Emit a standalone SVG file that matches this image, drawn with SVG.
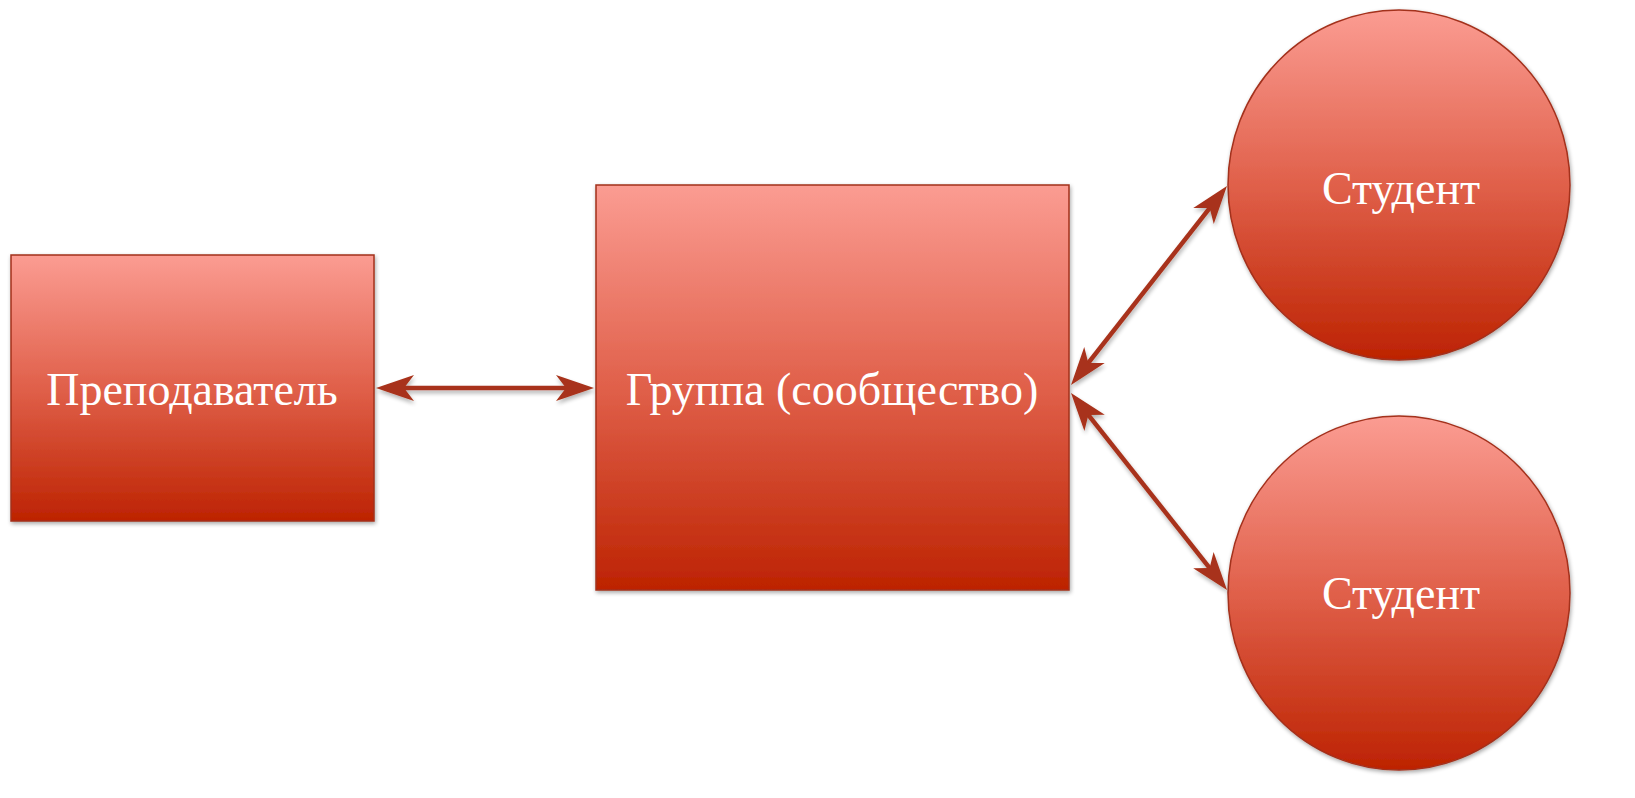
<svg xmlns="http://www.w3.org/2000/svg" width="1635" height="798" viewBox="0 0 1635 798">
<defs>
<linearGradient id="g" x1="0" y1="0" x2="0" y2="1">
<stop offset="0" stop-color="#FB9C92"/>
<stop offset="0.5" stop-color="#E0604A"/>
<stop offset="1" stop-color="#BD2302"/>
</linearGradient>
<filter id="sh" x="-10%" y="-10%" width="120%" height="120%">
<feGaussianBlur in="SourceAlpha" stdDeviation="2"/>
<feOffset dx="1" dy="2"/>
<feComponentTransfer><feFuncA type="linear" slope="0.35"/></feComponentTransfer>
<feMerge><feMergeNode/><feMergeNode in="SourceGraphic"/></feMerge>
</filter>
<filter id="shl" filterUnits="userSpaceOnUse" x="0" y="0" width="1635" height="798">
<feGaussianBlur in="SourceAlpha" stdDeviation="2"/>
<feOffset dx="1" dy="3"/>
<feComponentTransfer><feFuncA type="linear" slope="0.3"/></feComponentTransfer>
<feMerge><feMergeNode/><feMergeNode in="SourceGraphic"/></feMerge>
</filter>
<marker id="ah" viewBox="0 0 40 30" refX="28" refY="15" markerWidth="40" markerHeight="30" markerUnits="userSpaceOnUse" orient="auto-start-reverse">
<path d="M0,2 L38,15 L0,28 L10,15 Z" fill="#A8321A"/>
</marker>
</defs>
<style>
.n{fill:url(#g);stroke:#A3301B;stroke-width:1.5;filter:url(#sh)}
.t{font-family:"Liberation Serif","Times New Roman",serif;font-size:46px;fill:#ffffff;text-anchor:middle}
.c{stroke:#A8321A;stroke-width:4.5;fill:none;marker-start:url(#ah);marker-end:url(#ah)}
</style>
<rect width="1635" height="798" fill="#ffffff"/>
<g id="teacher">
<rect class="n" x="11" y="255" width="363" height="266"/>
<text class="t" x="192" y="405">Преподаватель</text>
</g>
<g id="group">
<rect class="n" x="596" y="185" width="473" height="405"/>
<text class="t" x="832" y="405">Группа (сообщество)</text>
</g>
<g id="student1">
<ellipse class="n" cx="1399" cy="185" rx="171" ry="175"/>
<text class="t" x="1401" y="204">Студент</text>
</g>
<g id="student2">
<ellipse class="n" cx="1399" cy="593" rx="171" ry="177"/>
<text class="t" x="1401" y="609">Студент</text>
</g>
<g id="connectors" filter="url(#shl)">
<line class="c" x1="386" y1="388" x2="584" y2="388"/>
<line class="c" x1="1077.2" y1="377.1" x2="1220.8" y2="193.9"/>
<line class="c" x1="1077.2" y1="400.9" x2="1220.8" y2="582.1"/>
</g>
</svg>
